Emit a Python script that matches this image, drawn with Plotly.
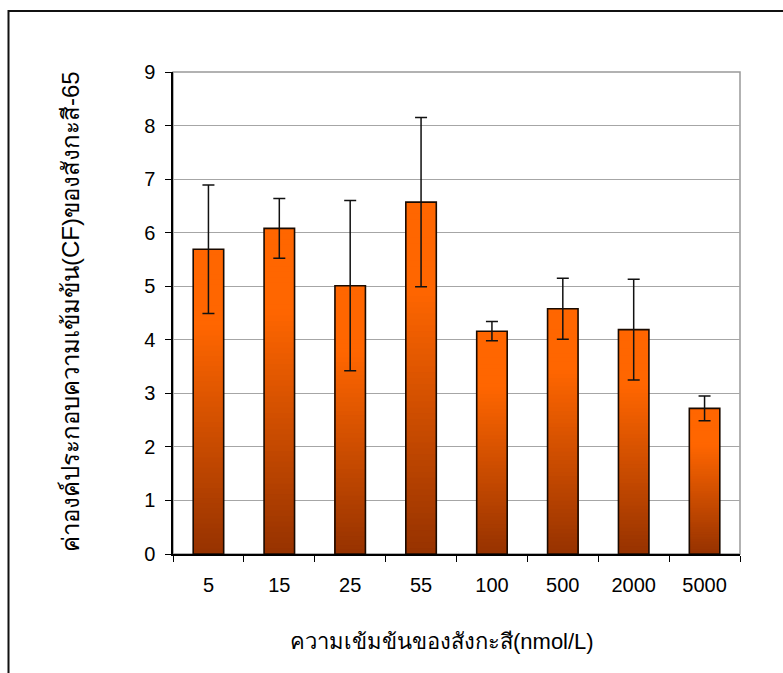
import plotly.graph_objects as go

# ---- data ----
categories = ["5", "15", "25", "55", "100", "500", "2000", "5000"]
cf_values = [5.69, 6.08, 5.01, 6.57, 4.16, 4.58, 4.19, 2.72]
cf_errors = [1.20, 0.56, 1.59, 1.58, 0.18, 0.57, 0.94, 0.23]
y_tick_values = [0, 1, 2, 3, 4, 5, 6, 7, 8, 9]

x_title = "ความเข้มข้นของสังกะสี(nmol/L)"
y_title = "ค่าองค์ประกอบความเข้มข้น(CF)ของสังกะสี-65"

# ---- layout geometry (pixels) ----
W, H = 783, 673
L, R, T, B = 173, 740, 72, 554
PW, PH = R - L, B - T

FONT = "Liberation Sans, Arial, sans-serif"

TOP_RGB = (255, 102, 0)
BOT_RGB = (150, 50, 0)
N = 60
T0 = 0.25


def shade(t):
    if t <= T0:
        f = 0.0
    else:
        f = (t - T0) / (1 - T0)
    c = [round(a + (b - a) * f) for a, b in zip(TOP_RGB, BOT_RGB)]
    return f"rgb({c[0]},{c[1]},{c[2]})"


fig = go.Figure()

# nested bars to build a vertical gradient in each bar
for k in range(N):
    frac = 1 - k / N
    t = (k + 0.5) / N
    fig.add_trace(go.Bar(
        x=categories,
        y=[v * frac for v in cf_values],
        marker=dict(color=shade(t), line=dict(width=0)),
        hoverinfo="skip",
        showlegend=False,
    ))

# outline + error bars
fig.add_trace(go.Bar(
    x=categories,
    y=cf_values,
    marker=dict(color="rgba(0,0,0,0)", line=dict(color="#1a0a00", width=1.6)),
    error_y=dict(type="data", array=cf_errors, color="#111111", thickness=1.5, width=6),
    showlegend=False,
))

px = lambda p: (p - L) / PW
py = lambda p: (B - p) / PH

fig.update_layout(
    width=W, height=H,
    margin=dict(l=L, r=W - R, t=T, b=H - B, pad=0),
    barmode="overlay",
    bargap=0.57,
    plot_bgcolor="white",
    paper_bgcolor="white",
    font=dict(family=FONT, color="black", size=20),
    showlegend=False,
    xaxis=dict(
        type="category",
        tickson="boundaries",
        ticks="outside", ticklen=6, tickwidth=1, tickcolor="black",
        showline=True, linecolor="black", linewidth=1.5,
        showgrid=False,
        tickfont=dict(family=FONT, size=20, color="black"),
        ticklabelstandoff=12,
    ),
    yaxis=dict(
        range=[0, 9],
        tickvals=y_tick_values,
        ticks="outside", ticklen=6, tickwidth=1, tickcolor="black",
        showline=True, linecolor="black", linewidth=1.5,
        showgrid=True, gridcolor="#a6a6a6", gridwidth=1,
        zeroline=False,
        tickfont=dict(family=FONT, size=20, color="black"),
        ticklabelstandoff=6,
    ),
    shapes=[
        # gray plot-area frame (top / right)
        dict(type="rect", xref="paper", yref="paper", x0=0, x1=1, y0=0, y1=1,
             line=dict(color="#999999", width=1.5), layer="below"),
        # outer chart border
        dict(type="rect", xref="paper", yref="paper",
             x0=px(8.5), x1=px(800), y0=py(11), y1=py(700),
             line=dict(color="#111111", width=2)),
    ],
    annotations=[
        dict(text=x_title, xref="paper", yref="paper", x=px(442), y=py(641),
             showarrow=False, font=dict(family=FONT, size=22, color="black"),
             xanchor="center", yanchor="middle"),
        dict(text=y_title, xref="paper", yref="paper", x=px(70), y=py(312),
             textangle=-90, showarrow=False,
             font=dict(family=FONT, size=24, color="black"),
             xanchor="center", yanchor="middle"),
    ],
)

fig.write_html(
    "out.html",
    config={"displayModeBar": False},
    post_script="document.body.style.margin='0';document.body.style.overflow='hidden';",
)
